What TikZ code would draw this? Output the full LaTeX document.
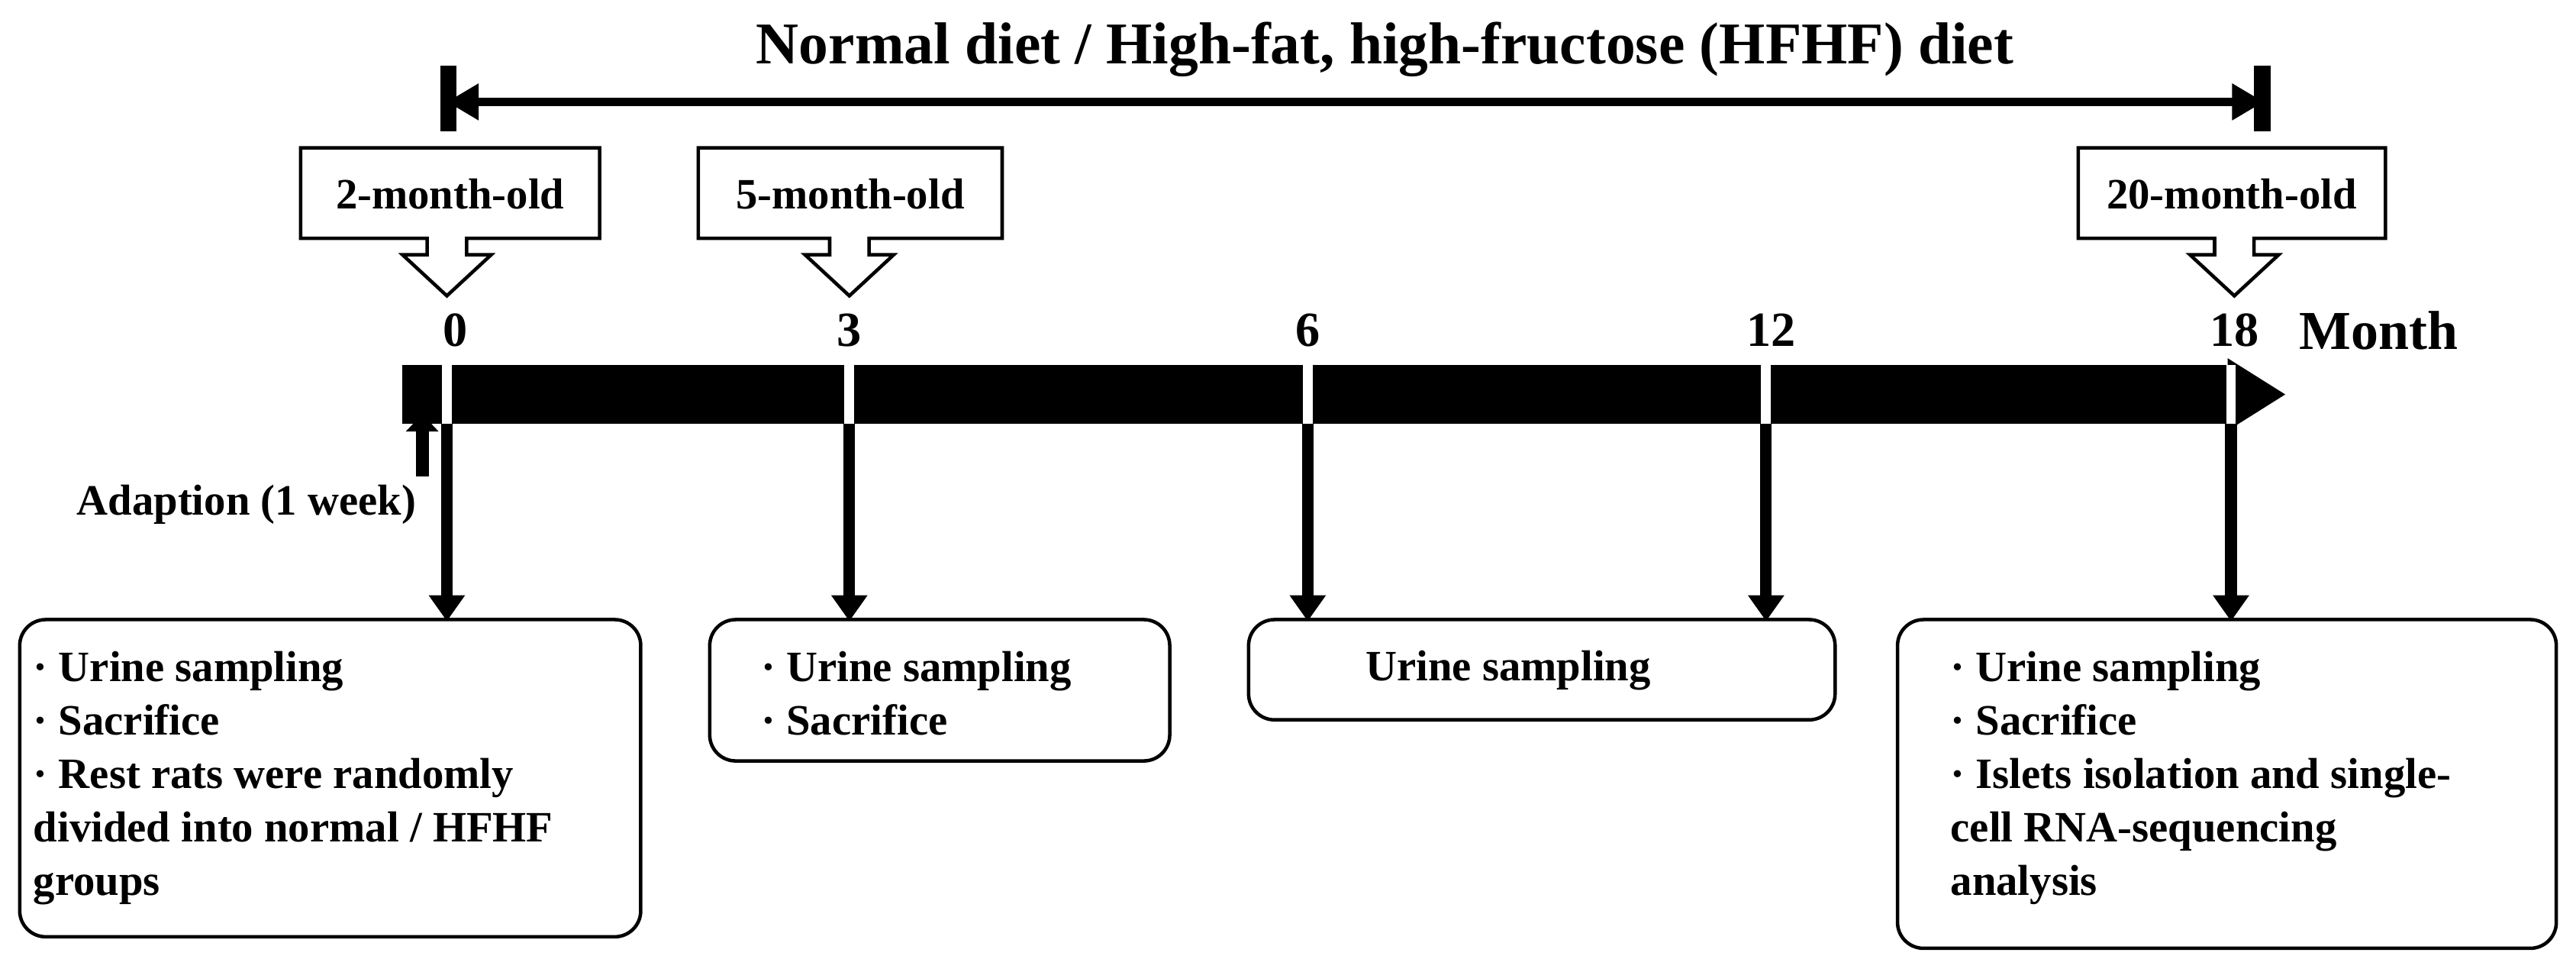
\documentclass[tikz,border=0pt]{standalone}
\usepackage{fontspec}
\setmainfont{Liberation Serif}
\usetikzlibrary{arrows.meta}
\begin{document}
\begin{tikzpicture}[x=0.02cm,y=-0.02cm,
  txt/.style={font=\bfseries\fontsize{15}{18.5}\selectfont,inner sep=0pt},
  rbox/.style={draw,line width=1.2pt,rounded corners=9pt},
  callout/.style={draw,line width=1.2pt,fill=white},
  down/.style={line width=4pt,-{Triangle[length=9pt,width=12pt]}}]
\useasboundingbox (0,0) rectangle (1568,591);
% title
\node[txt,font=\bfseries\fontsize{20.5}{24}\selectfont] (title) at (843,30) {Normal diet / High-fat, high-fructose (HFHF) diet};
\coordinate (dl) at (272,62); \coordinate (dr) at (1378,62);
\draw[line width=3pt,{Triangle[length=11pt,width=12pt]}-{Triangle[length=11pt,width=12pt]}] (dl) -- (dr);
\fill (268,40) rectangle (278,80);
\fill (1372,40) rectangle (1382,80);
% callouts
\foreach \l/\r/\c/\t/\n in {183/365/272/2-month-old/ca,425/610/517/5-month-old/cb,1265/1452/1360/20-month-old/cc}{
  \draw[callout] (\l,90) -- (\r,90) -- (\r,145) -- (\c+12,145) -- (\c+12,155) -- (\c+27,155) -- (\c,180) -- (\c-27,155) -- (\c-12,155) -- (\c-12,145) -- (\l,145) -- cycle;
  \node[txt] (\n) at ({(\l+\r)/2},118) {\t};
}
% numbers
\node[txt,font=\bfseries\fontsize{17}{20}\selectfont] (m0) at (277,201) {0};
\node[txt,font=\bfseries\fontsize{17}{20}\selectfont] (m3) at (517,201) {3};
\node[txt,font=\bfseries\fontsize{17}{20}\selectfont] (m6) at (796,201) {6};
\node[txt,font=\bfseries\fontsize{17}{20}\selectfont] (m12) at (1078,201) {12};
\node[txt,font=\bfseries\fontsize{17}{20}\selectfont] (m18) at (1360,201) {18};
\node[txt,font=\bfseries\fontsize{19}{22}\selectfont] (month) at (1448,201) {Month};
% bar
\fill (245,222) rectangle (1356,258);
\fill (1356,218) -- (1391,240) -- (1356,262) -- cycle;
\foreach \x in {272,517,796,1075,1358}{\fill[white] (\x-3,222) rectangle (\x+3,258);}
% adaption arrow
\coordinate (a1) at (257,290); \coordinate (a2) at (257,252);
\draw[line width=4.5pt,-{Triangle[length=6pt,width=11pt]}] (a1) -- (a2);
\node[txt] (adapt) at (150,307) {Adaption (1 week)};
% boxes
\node[txt,align=left,anchor=north west] (b1t) at (20,396) {· Urine sampling\\· Sacrifice\\· Rest rats were randomly\\divided into normal / HFHF\\groups};
\draw[rbox] (12,377) rectangle (390,570);
\node[txt,align=left,anchor=north west] (b2t) at (463,396) {· Urine sampling\\· Sacrifice};
\draw[rbox] (432,377) rectangle (712,463);
\node[txt] (b3t) at (918,408) {Urine sampling};
\draw[rbox] (760,377) rectangle (1117,438);
\node[txt,align=left,anchor=north west] (b4t) at (1187,396) {· Urine sampling\\· Sacrifice\\· Islets isolation and single-\\cell RNA-sequencing\\analysis};
\draw[rbox] (1155,377) rectangle (1556,577);
% down arrows
\foreach \x/\n in {272/p0,517/p3,796/p6,1075/p12,1358/p18}{
  \coordinate (\n a) at (\x,258); \coordinate (\n b) at (\x,378);
  \draw[down] (\n a) -- (\n b);}
\end{tikzpicture}
\end{document}
